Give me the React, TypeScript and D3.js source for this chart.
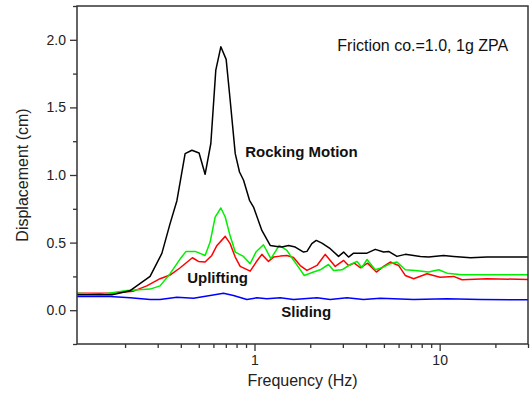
import React, { useEffect, useRef } from 'react';
import * as d3 from 'd3';

// Frequency (Hz) / displacement (cm) pairs
const rockingFreq = [0.11, 0.17, 0.213, 0.273, 0.316, 0.35, 0.381, 0.422, 0.459, 0.502, 0.541, 0.581, 0.618, 0.658, 0.703, 0.739, 0.787, 0.83, 0.873, 0.94, 0.988, 1.096, 1.216, 1.32, 1.406, 1.526, 1.66, 1.84, 1.92, 2.04, 2.155, 2.313, 2.565, 2.844, 3.03, 3.22, 3.43, 4.05, 4.49, 4.98, 5.3, 5.88, 6.52, 7.87, 8.71, 10.5, 11.9, 14.7, 18.0, 30];
const rockingDisp = [0.114, 0.114, 0.144, 0.25, 0.42, 0.64, 0.81, 1.158, 1.183, 1.163, 1.005, 1.233, 1.776, 1.948, 1.855, 1.553, 1.158, 1.022, 0.961, 0.813, 0.763, 0.59, 0.479, 0.472, 0.467, 0.479, 0.467, 0.43, 0.435, 0.492, 0.516, 0.496, 0.455, 0.398, 0.43, 0.393, 0.422, 0.422, 0.45, 0.43, 0.435, 0.398, 0.413, 0.398, 0.393, 0.405, 0.398, 0.388, 0.393, 0.393];

const greenFreq = [0.11, 0.147, 0.205, 0.273, 0.309, 0.35, 0.397, 0.427, 0.478, 0.541, 0.576, 0.613, 0.658, 0.695, 0.733, 0.787, 0.872, 0.948, 1.018, 1.118, 1.226, 1.36, 1.497, 1.56, 1.766, 1.857, 2.084, 2.265, 2.51, 2.673, 2.97, 3.29, 3.58, 3.8, 4.05, 4.49, 4.88, 5.41, 5.88, 6.52, 7.39, 8.71, 9.88, 10.96, 13.2, 18, 30];
const greenDisp = [0.126, 0.116, 0.146, 0.156, 0.18, 0.27, 0.38, 0.435, 0.435, 0.405, 0.504, 0.689, 0.756, 0.689, 0.566, 0.43, 0.398, 0.344, 0.43, 0.484, 0.381, 0.479, 0.442, 0.405, 0.3, 0.257, 0.282, 0.299, 0.338, 0.294, 0.299, 0.338, 0.361, 0.314, 0.375, 0.299, 0.314, 0.344, 0.356, 0.299, 0.294, 0.282, 0.299, 0.274, 0.262, 0.262, 0.262];

const redFreq = [0.11, 0.166, 0.222, 0.262, 0.309, 0.35, 0.397, 0.462, 0.498, 0.541, 0.588, 0.627, 0.695, 0.739, 0.787, 0.837, 0.948, 1.021, 1.096, 1.19, 1.267, 1.377, 1.497, 1.625, 1.766, 1.92, 2.175, 2.41, 2.565, 2.73, 3.03, 3.22, 3.46, 3.73, 4.08, 4.55, 4.98, 5.41, 6.0, 6.52, 7.24, 8.55, 10.04, 11.9, 13.2, 18, 30];
const redDisp = [0.126, 0.126, 0.141, 0.18, 0.233, 0.26, 0.314, 0.388, 0.361, 0.356, 0.405, 0.479, 0.546, 0.492, 0.393, 0.324, 0.289, 0.356, 0.413, 0.361, 0.393, 0.4, 0.405, 0.39, 0.33, 0.294, 0.331, 0.413, 0.368, 0.324, 0.368, 0.331, 0.348, 0.314, 0.348, 0.282, 0.324, 0.356, 0.331, 0.257, 0.233, 0.27, 0.244, 0.25, 0.225, 0.233, 0.227];

const slidingFreq = [0.11, 0.166, 0.213, 0.273, 0.309, 0.381, 0.468, 0.576, 0.68, 0.77, 0.91, 1.03, 1.167, 1.377, 1.625, 2.175, 2.565, 3.16, 3.88, 4.78, 7.24, 10.96, 16.6, 30];
const slidingDisp = [0.101, 0.101, 0.092, 0.079, 0.079, 0.096, 0.089, 0.109, 0.126, 0.109, 0.079, 0.092, 0.084, 0.092, 0.079, 0.092, 0.079, 0.092, 0.079, 0.089, 0.079, 0.084, 0.079, 0.077];

const xMajorTicks = [1, 10];
const xMinorTicks = [0.2, 0.3, 0.4, 0.5, 0.6, 0.7, 0.8, 0.9, 2, 3, 4, 5, 6, 7, 8, 9, 20, 30];
const yMajorTicks = [0, 0.5, 1.0, 1.5, 2.0];
const yMinorTicks = [-0.25, 0.25, 0.75, 1.25, 1.75, 2.25];

const labels = [
  { text: 'Friction co.=1.0, 1g ZPA', freq: 2.8, disp: 1.92, bold: false, size: 16 },
  { text: 'Rocking Motion', freq: 0.891, disp: 1.13, bold: true, size: 15 },
  { text: 'Uplifting', freq: 0.433, disp: 0.2, bold: true, size: 15 },
  { text: 'Sliding', freq: 1.394, disp: -0.052, bold: true, size: 15 }
];

const FONT = '"Liberation Sans", Arial, sans-serif';

export default function App() {
  const svgRef = useRef<SVGSVGElement>(null);

  useEffect(() => {
    if (!svgRef.current) return;
    const svg = d3.select(svgRef.current);
    svg.selectAll('*').remove();

    const left = 77, right = 528, top = 6, bottom = 344;

    const x = d3.scaleLog().domain([0.11, 30]).range([left, right]);
    const y = d3.scaleLinear().domain([-0.25, 2.25]).range([bottom, top]);

    const line = d3.line<[number, number]>()
      .x(d => x(d[0]))
      .y(d => y(d[1]));

    const series = [
      { f: slidingFreq, v: slidingDisp, color: '#0000ff' },
      { f: redFreq, v: redDisp, color: '#ff0000' },
      { f: greenFreq, v: greenDisp, color: '#00ee00' },
      { f: rockingFreq, v: rockingDisp, color: '#000000' }
    ];

    series.forEach(s => {
      const pts = s.f.map((f, i) => [f, s.v[i]] as [number, number]);
      svg.append('path')
        .attr('d', line(pts))
        .style('fill', 'none')
        .style('stroke', s.color)
        .style('stroke-width', 1.5)
        .style('stroke-linejoin', 'round');
    });

    // Axes
    const styleAxis = (g: any) => {
      g.select('.domain').remove();
      g.selectAll('line').style('stroke', '#333').style('stroke-width', 1.3);
      g.selectAll('text').style('font-family', FONT).style('font-size', '14px').style('fill', '#222');
    };

    svg.append('g')
      .attr('transform', `translate(0,${bottom})`)
      .call(d3.axisBottom(x).tickValues(xMinorTicks).tickSize(4).tickFormat(() => ''))
      .call(styleAxis);
    svg.append('g')
      .attr('transform', `translate(0,${bottom})`)
      .call(d3.axisBottom(x).tickValues(xMajorTicks).tickSize(7).tickPadding(4).tickFormat(d3.format('d')))
      .call(styleAxis);

    svg.append('g')
      .attr('transform', `translate(${left},0)`)
      .call(d3.axisLeft(y).tickValues(yMinorTicks).tickSize(4).tickFormat(() => ''))
      .call(styleAxis);
    svg.append('g')
      .attr('transform', `translate(${left},0)`)
      .call(d3.axisLeft(y).tickValues(yMajorTicks).tickSize(7).tickPadding(4).tickFormat(d3.format('.1f')))
      .call(styleAxis);

    // Frame
    svg.append('rect')
      .attr('x', left)
      .attr('y', top)
      .attr('width', right - left)
      .attr('height', bottom - top)
      .style('fill', 'none')
      .style('stroke', '#333')
      .style('stroke-width', 1.5);

    // Axis titles
    svg.append('text')
      .attr('x', (left + right) / 2)
      .attr('y', 386)
      .attr('text-anchor', 'middle')
      .style('font-family', FONT)
      .style('font-size', '16px')
      .style('fill', '#222')
      .text('Frequency (Hz)');

    svg.append('text')
      .attr('transform', `translate(28,${(top + bottom) / 2}) rotate(-90)`)
      .attr('text-anchor', 'middle')
      .style('font-family', FONT)
      .style('font-size', '16px')
      .style('fill', '#222')
      .text('Displacement (cm)');

    labels.forEach(l => {
      svg.append('text')
        .attr('x', x(l.freq))
        .attr('y', y(l.disp))
        .style('font-family', FONT)
        .style('font-size', `${l.size}px`)
        .style('font-weight', l.bold ? '700' : '400')
        .style('fill', '#111')
        .text(l.text);
    });
  }, []);

  return (
    <div style={{ position: 'absolute', left: 0, top: 0 }}>
      <svg ref={svgRef} width={531} height={398} style={{ display: 'block', background: '#fff' }} />
    </div>
  );
}
